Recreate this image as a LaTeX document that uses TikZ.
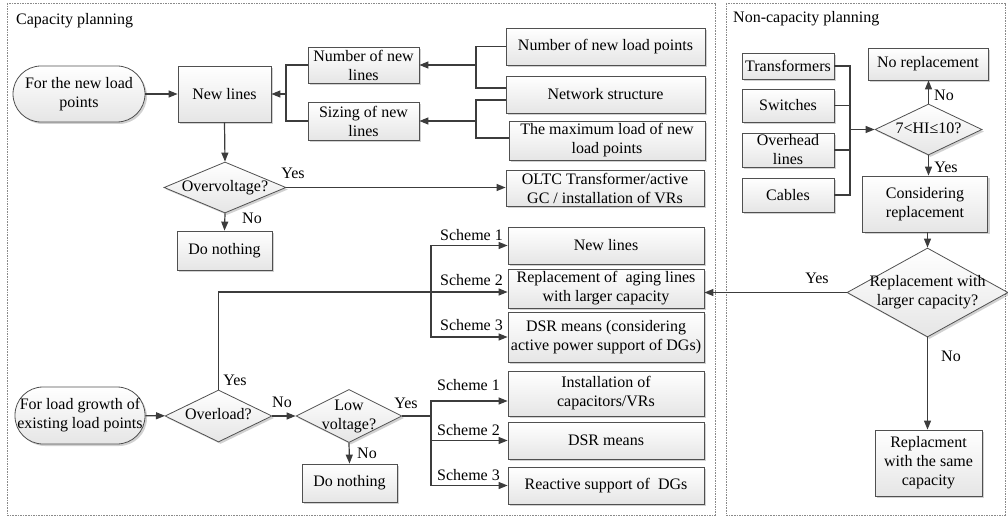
\documentclass[tikz,border=0pt]{standalone}
\usepackage{fontspec}
\setmainfont{Liberation Serif}
\usetikzlibrary{arrows.meta,shapes.geometric,shadows,calc}
\newcommand\dlab[1]{\makebox[0pt]{\begin{tabular}{@{}c@{}}#1\end{tabular}}}
\definecolor{bcol}{HTML}{505050}
\definecolor{lcol}{HTML}{3C3C3C}
\definecolor{fcol}{HTML}{8A8A8A}
\begin{document}
\begin{tikzpicture}[x=1pt,y=-1pt,
  font=\fontsize{16}{19}\selectfont,
  shad/.style={drop shadow={shadow xshift=2pt,shadow yshift=-2pt,fill=black,opacity=0.18}},
  box/.style={draw=bcol,line width=0.8pt,top color=white,bottom color=gray!20,shad,
    align=center,inner sep=1pt,text=black},
  stad/.style={box,rounded corners=28pt},
  dia/.style={shape=diamond,draw=bcol,line width=0.8pt,top color=white,bottom color=gray!20,shad,inner sep=0pt},
  conn/.style={draw=lcol,line width=1.2pt},
  arr/.style={conn,-{Triangle[length=9pt,width=7pt]}},
  lab/.style={inner sep=0pt},
  frame/.style={draw=fcol,line width=0.7pt,dash pattern=on 1.6pt off 1pt}
]
\useasboundingbox (0,0) rectangle (1008,521);
% frames
\draw[frame] (7,3) rectangle (715,515);
\draw[frame] (726,3) rectangle (1005,515);
\node[lab,anchor=west] (t1) at (16,21) {Capacity planning};
\node[lab,anchor=west] (t2) at (733,19) {Non-capacity planning};

% upper left
\node[stad,minimum width=132,minimum height=56] (np) at (79,94) {For the new load\\points};
\node[box,minimum width=93,minimum height=56] (nl) at (224.5,94) {New lines};
\node[box,minimum width=111,minimum height=36] (nnl) at (363.5,65) {Number of new\\lines};
\node[box,minimum width=111,minimum height=38] (snl) at (363.5,121) {Sizing of new\\lines};
\node[box,minimum width=199,minimum height=37] (nlp) at (605.5,46.5) {Number of new load points};
\node[box,minimum width=199,minimum height=37] (ns) at (605.5,94.5) {Network structure};
\node[box,minimum width=196,minimum height=39] (ml) at (607,140.5) {The maximum load of new\\load points};
\node[dia,minimum width=122,minimum height=51] (ov) at (225,187.5) {\dlab{Overvoltage?}};
\node[box,minimum width=198,minimum height=36] (oltc) at (605,188) {OLTC Transformer/active\\GC / installation of VRs};
\node[box,minimum width=95,minimum height=39] (dn1) at (224.5,250.5) {Do nothing};

\node[box,minimum width=196,minimum height=37] (s1a) at (606,245.5) {New lines};
\node[box,minimum width=196,minimum height=39] (s2a) at (606,288.5) {Replacement of~ aging lines\\with larger capacity};
\node[box,minimum width=196,minimum height=50] (s3a) at (606,337) {DSR means (considering\\active power support of DGs)};

% lower left
\node[stad,minimum width=130,minimum height=57] (lg) at (80,415.5) {For load growth of\\existing load points};
\node[dia,minimum width=107,minimum height=52] (ol) at (218.5,416) {\dlab{Overload?}};
\node[dia,minimum width=106,minimum height=53] (lv) at (349,416) {\dlab{Low\\voltage?}};
\node[box,minimum width=95,minimum height=38] (dn2) at (349.5,483) {Do nothing};
\node[box,minimum width=196,minimum height=45] (s1b) at (606,393.5) {Installation of\\capacitors/VRs};
\node[box,minimum width=196,minimum height=37] (s2b) at (606,440.5) {DSR means};
\node[box,minimum width=196,minimum height=37] (s3b) at (606,485.5) {Reactive support of~ DGs};

% right column
\node[box,minimum width=92,minimum height=26] (tr) at (788,66) {Transformers};
\node[box,minimum width=92,minimum height=33] (sw) at (788,105.5) {Switches};
\node[box,minimum width=92,minimum height=34] (oh) at (788,150) {Overhead\\lines};
\node[box,minimum width=92,minimum height=34] (cb) at (788,195) {Cables};
\node[dia,minimum width=107,minimum height=51] (hi) at (928.5,129.5) {\dlab{7<HI≤10?}};
\node[box,minimum width=120,minimum height=32] (nr) at (928,64) {No replacement};
\node[box,minimum width=125,minimum height=56] (cr) at (925,204) {Considering\\replacement};
\node[dia,minimum width=161,minimum height=89] (rl) at (927.5,292.5) {\dlab{Replacement with\\larger capacity?}};
\node[box,minimum width=107,minimum height=66] (rs) at (928.5,463) {Replacment\\with the same\\capacity};

% coordinates
\coordinate (b1) at (286,94);
\coordinate (b2) at (476,65);
\coordinate (b3) at (476,121);
\coordinate (c1) at (218.5,292);
\coordinate (br1) at (431,292);
\coordinate (br2) at (431,416);
\coordinate (b4) at (850,129.5);

% connectors upper left
\draw[arr] (np) -- (nl);
\draw[conn] (nnl.west) -| (b1) |- (snl.west);
\draw[arr] (b1) -- (nl.east);
\draw[conn] (nlp.west) -| (b2) |- ($(ns.west)+(0,-6.5)$);
\draw[arr] (b2) -- (nnl.east);
\draw[conn] ($(ns.west)+(0,5.5)$) -| (b3) |- ($(ml.west)+(0,-2.5)$);
\draw[arr] (b3) -- (snl.east);
\draw[arr] (nl.south) -- (ov.north);
\draw[arr] (ov.east) -- (ov.east -| oltc.west);
\draw[arr] (ov.south) -- (dn1.north);
\node[lab] (y1) at (293,173) {Yes};
\node[lab] (n1) at (252,218) {No};

% overload
\draw[arr] (lg) -- (ol);
\draw[arr] (ol.north) -- (c1) -- (c1 -| s2a.west);
\draw[arr] (br1) |- (s1a.west);
\draw[arr] (br1) |- (s3a.west);
\node[lab] (y2) at (235,380) {Yes};
\node[lab,anchor=east] (sc1) at (503,235) {Scheme 1};
\node[lab,anchor=east] (sc2) at (503,280) {Scheme 2};
\node[lab,anchor=east] (sc3) at (503,325) {Scheme 3};
\draw[arr] (rl.west) -- (rl.west -| s2a.east);
\node[lab] (y3) at (817,278) {Yes};

\draw[arr] (ol.east) -- (lv.west);
\node[lab] (n2) at (282,402) {No};
\draw[arr] (lv.south) -- (dn2.north);
\node[lab] (n3) at (367,453) {No};
\draw[conn] (lv.east) -- (br2);
\draw[arr] (br2) |- ($(s1b.west)+(0,7.5)$);
\draw[arr] (br2) |- (s2b.west);
\draw[arr] (br2) |- (s3b.west);
\node[lab] (y4) at (406,403) {Yes};
\node[lab,anchor=east] (sd1) at (500,385) {Scheme 1};
\node[lab,anchor=east] (sd2) at (500,430) {Scheme 2};
\node[lab,anchor=east] (sd3) at (500,475) {Scheme 3};

% right
\draw[conn] (tr.east) -| (b4);
\draw[conn] (cb.east) -| (b4);
\draw[conn] (sw.east) -- (sw.east -| b4);
\draw[conn] (oh.east) -- (oh.east -| b4);
\draw[arr] (b4) -- (hi.west);
\draw[arr] (hi.north) -- (hi.north |- nr.south);
\node[lab] (n4) at (944,95) {No};
\draw[arr] (hi.south) -- (hi.south |- cr.north);
\node[lab] (y5) at (946,167) {Yes};
\draw[arr] (cr.south -| rl.north) -- (rl.north);
\draw[arr] (rl.south) -- (rl.south |- rs.north);
\node[lab] (n5) at (951,356) {No};
\end{tikzpicture}
\end{document}
